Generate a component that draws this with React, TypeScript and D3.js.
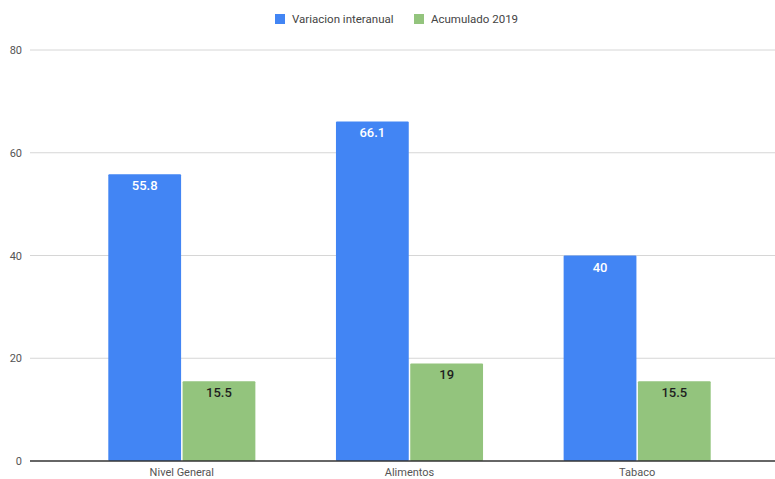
import React from "react";
import * as d3 from "d3";

const categories = ["Nivel General", "Alimentos", "Tabaco"];
const seriesNames = ["Variacion interanual", "Acumulado 2019"];
const variacionInteranual = [55.8, 66.1, 40];
const acumulado2019 = [15.5, 19, 15.5];
const yTicks = [0, 20, 40, 60, 80];

const W = 775;
const H = 479;
const colors = ["#4285F4", "#93C47D"];
const labelColors = ["#ffffff", "#1f1f1f"];

export default function App() {
  const series = [variacionInteranual, acumulado2019];
  const y = d3.scaleLinear().domain([0, 80]).range([461, 50]);
  const x0 = d3
    .scaleBand<string>()
    .domain(categories)
    .range([68, 751])
    .paddingInner(0.354)
    .paddingOuter(0.177);
  const x1 = d3
    .scaleBand<string>()
    .domain(seriesNames)
    .range([0, x0.bandwidth()])
    .paddingInner(0.02);

  const gridLeft = 30;
  const gridRight = W;
  const font = "Roboto, Arial, sans-serif";

  return (
    <div style={{ position: "absolute", left: 0, top: 0 }}>
      <svg width={W} height={H} style={{ display: "block", fontFamily: font }}>
        <rect width={W} height={H} fill="#ffffff" />
        {/* legend */}
        <g>
          <rect x={275} y={14} width={10} height={10} fill={colors[0]} />
          <text x={292} y={23} fontSize={11.5} fill="#444">
            {seriesNames[0]}
          </text>
          <rect x={414} y={14} width={10} height={10} fill={colors[1]} />
          <text x={431} y={23} fontSize={11.5} fill="#444">
            {seriesNames[1]}
          </text>
        </g>
        {/* gridlines and y labels */}
        {yTicks.map((t) => (
          <g key={t}>
            {t !== 0 && (
              <line
                x1={gridLeft}
                x2={gridRight}
                y1={y(t)}
                y2={y(t)}
                stroke="#d6d6d6"
                strokeWidth={1}
              />
            )}
            <text
              x={22}
              y={y(t) + 4}
              textAnchor="end"
              fontSize={11}
              fill="#555"
            >
              {t}
            </text>
          </g>
        ))}
        {/* bars */}
        {categories.map((c, i) => (
          <g key={c} transform={`translate(${x0(c)},0)`}>
            {series.map((vals, s) => {
              const bx = x1(seriesNames[s]) as number;
              const bw = x1.bandwidth();
              const v = vals[i];
              return (
                <g key={s}>
                  <rect
                    x={bx}
                    y={y(v)}
                    width={bw}
                    height={y(0) - y(v)}
                    fill={colors[s]}
                    rx={1}
                  />
                  <text
                    x={bx + bw / 2}
                    y={y(v) + 16}
                    textAnchor="middle"
                    fontSize={13}
                    fontWeight={500}
                    fill={labelColors[s]}
                  >
                    {v}
                  </text>
                </g>
              );
            })}
          </g>
        ))}
        {/* baseline */}
        <line
          x1={gridLeft}
          x2={gridRight}
          y1={y(0)}
          y2={y(0)}
          stroke="#333"
          strokeWidth={1.5}
        />
        {/* category labels */}
        {categories.map((c) => (
          <text
            key={c}
            x={(x0(c) as number) + x0.bandwidth() / 2}
            y={476}
            textAnchor="middle"
            fontSize={11}
            fill="#555"
          >
            {c}
          </text>
        ))}
      </svg>
    </div>
  );
}
